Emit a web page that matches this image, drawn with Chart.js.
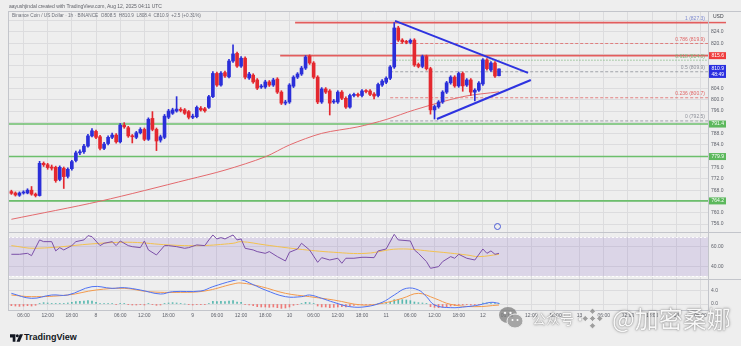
<!DOCTYPE html>
<html>
<head>
<meta charset="utf-8">
<title>BNBUSD 1h</title>
<script src="https://cdn.jsdelivr.net/npm/chart.js@4.4.1/dist/chart.umd.min.js"></script>
<style>
  html, body { margin: 0; padding: 0; background: #eeeeee; }
  body { width: 741px; height: 346px; position: relative; overflow: hidden; font-family: "Liberation Sans", Arial, sans-serif; }
  canvas { position: absolute; left: 0; }
  #priceChart { top: 0; }
  #rsiChart { top: 232px; }
  #macdChart { top: 279px; }
  .txt { position: absolute; white-space: nowrap; line-height: 1; }
  .wm { position: absolute; white-space: nowrap; line-height: 1; color: rgba(255,255,255,0.95);
        font-family: "Noto Sans CJK SC", "Noto Sans", sans-serif;
        text-shadow: 0 0 1px rgba(90,90,90,0.9), 0 0 3px rgba(0,0,0,0.35); }
</style>
</head>
<body>
<canvas id="priceChart" width="741" height="232"></canvas>
<canvas id="rsiChart" width="741" height="47"></canvas>
<canvas id="macdChart" width="741" height="47"></canvas>

<div class="txt" style="left:9px;top:3.5px;font-size:5px;color:#5d5f66">aayushjindal created with TradingView.com, Aug 12, 2025 04:11 UTC</div>
<div class="txt" style="left:12px;top:13.5px;font-size:4.7px;color:#6c6f78">Binance Coin / US Dollar · 1h · BINANCE &nbsp;O808.5 &nbsp;H810.9 &nbsp;L808.4 &nbsp;C810.9 &nbsp;+2.5 (+0.31%)</div>

<!-- TradingView footer logo -->
<svg style="position:absolute;left:10px;top:334px" width="13" height="8" viewBox="0 0 24 14">
  <path d="M0 0h10v14h-5v-8h-5z" fill="#131722"/>
  <circle cx="13.5" cy="3" r="2.8" fill="#131722"/>
  <path d="M18 0h6l-6 14h-6z" fill="#131722"/>
</svg>
<div class="txt" style="left:24px;top:333px;font-size:9px;font-weight:bold;color:#131722">TradingView</div>

<!-- small alert marker under the last candle -->
<div style="position:absolute;left:494px;top:223px;width:5px;height:5px;border:1px solid #4a5bd6;border-radius:50%"></div>

<!-- watermark -->
<svg style="position:absolute;left:498px;top:306px;opacity:0.75" width="26" height="24" viewBox="0 0 26 24">
  <ellipse cx="10" cy="9" rx="9" ry="8" fill="#7d7d7d"/>
  <ellipse cx="17" cy="15" rx="8" ry="7" fill="#8c8c8c" stroke="#eee" stroke-width="1"/>
  <circle cx="7" cy="7" r="1.2" fill="#fff"/><circle cx="12.5" cy="7" r="1.2" fill="#fff"/>
  <circle cx="14.5" cy="14" r="1" fill="#fff"/><circle cx="19.5" cy="14" r="1" fill="#fff"/>
</svg>
<div class="wm" style="left:532px;top:311px;font-size:14px">公众号</div>
<div class="wm" style="left:573px;top:311px;font-size:14px">·</div>
<svg style="position:absolute;left:580px;top:306px;opacity:0.8" width="25" height="25" viewBox="0 0 24 24">
  <g fill="#8a8a8a" stroke="#f4f4f4" stroke-width="0.8">
    <path d="M12 2l3 3-3 3-3-3z"/>
    <path d="M12 16l3 3-3 3-3-3z"/>
    <path d="M5 9l3 3-3 3-3-3z"/>
    <path d="M19 9l3 3-3 3-3-3z"/>
    <path d="M12 9l3 3-3 3-3-3z"/>
  </g>
</svg>
<div class="wm" style="left:612px;top:306px;font-size:24px">@加密桑娜</div>

<script>
// hourly candles, hour 0 = Aug 8 00:00 UTC; first candle is Aug 7 03:00
const firstHour = -21;
const opens = [
  767.5, 767.0, 766.2, 767.0, 767.0, 768.0, 766.6, 766.1, 777.5, 777.0,
  776.2, 776.1, 771.8, 775.7, 772.9, 775.6, 778.5, 781.2, 781.6, 783.6,
  787.2, 788.8, 786.9, 782.8, 784.5, 786.7, 787.5, 785.1, 791.0, 790.1,
  787.2, 786.7, 788.3, 789.5, 786.0, 793.4, 789.5, 785.7, 786.7, 793.8,
  795.2, 796.0, 796.6, 796.4, 795.8, 793.8, 794.0, 797.0, 796.8, 797.3,
  801.1, 809.3, 805.2, 809.6, 808.1, 813.7, 816.4, 811.9, 814.7, 807.7,
  808.7, 807.0, 804.5, 804.5, 806.3, 805.2, 807.3, 802.7, 798.8, 799.2,
  804.8, 808.0, 809.1, 811.2, 815.4, 813.0, 808.0, 799.2, 803.8, 803.1,
  799.2, 799.2, 802.7, 800.5, 797.4, 801.5, 801.9, 801.5, 803.1, 803.1,
  802.0, 801.5, 805.2, 806.2, 807.6, 811.6, 825.4, 821.1, 820.5, 820.3,
  821.1, 812.5, 811.8, 815.3, 811.0, 796.4, 797.5, 799.2, 802.7, 806.0,
  808.0, 804.9, 809.3, 805.2, 807.0, 802.7, 803.4, 805.6, 814.1, 810.5,
  813.0, 808.5
];
const highs = [
  768.0, 767.4, 767.4, 767.8, 768.5, 769.3, 767.0, 778.2, 778.0, 777.5,
  776.9, 776.5, 776.6, 776.2, 775.9, 778.6, 781.8, 782.3, 784.2, 787.8,
  789.8, 789.3, 787.4, 784.9, 787.2, 788.2, 788.0, 791.6, 791.9, 790.6,
  787.7, 788.8, 790.1, 790.0, 793.6, 795.8, 790.0, 787.5, 794.8, 796.6,
  797.0, 801.1, 797.2, 796.9, 796.2, 794.9, 797.8, 797.6, 797.3, 801.6,
  810.0, 809.8, 810.0, 810.1, 814.3, 819.4, 816.9, 815.3, 815.2, 809.7,
  809.2, 807.5, 805.4, 806.9, 806.8, 807.6, 807.8, 803.2, 799.8, 805.7,
  808.5, 809.6, 811.8, 815.6, 815.9, 813.5, 808.5, 804.3, 804.3, 803.6,
  800.1, 803.2, 803.2, 801.0, 802.0, 802.4, 802.4, 803.6, 803.6, 803.6,
  802.5, 805.9, 807.1, 808.1, 812.1, 827.3, 826.0, 821.6, 821.0, 821.5,
  821.6, 813.0, 815.8, 815.8, 811.5, 798.1, 799.7, 803.2, 806.5, 808.5,
  808.5, 809.8, 809.8, 807.5, 807.5, 803.9, 806.4, 814.6, 814.6, 813.5,
  813.5, 810.9
];
const lows = [
  766.5, 765.9, 765.8, 766.6, 766.7, 766.2, 765.6, 765.9, 776.4, 775.4,
  775.1, 770.8, 771.3, 768.6, 772.3, 775.1, 778.0, 780.6, 781.0, 783.2,
  786.8, 786.2, 782.2, 782.3, 784.0, 786.2, 784.6, 784.7, 789.9, 786.7,
  784.7, 786.2, 787.9, 785.5, 785.6, 789.0, 782.0, 785.0, 786.2, 793.3,
  794.8, 795.6, 795.7, 794.8, 793.2, 793.3, 793.6, 796.0, 795.6, 796.9,
  800.7, 804.7, 804.8, 807.9, 807.7, 813.2, 811.4, 811.4, 807.4, 807.2,
  805.8, 803.6, 804.0, 804.0, 804.7, 804.7, 802.2, 798.3, 798.2, 798.7,
  804.3, 807.5, 808.6, 810.7, 812.5, 807.5, 798.6, 798.7, 802.2, 794.6,
  798.7, 798.7, 800.0, 796.9, 797.0, 801.0, 801.0, 801.0, 802.4, 801.4,
  800.3, 801.0, 804.7, 805.7, 807.1, 811.1, 820.6, 820.0, 819.8, 819.8,
  811.8, 811.3, 811.3, 810.5, 794.9, 793.2, 797.0, 798.7, 802.2, 805.5,
  804.4, 804.4, 803.0, 804.7, 801.5, 799.6, 802.9, 805.1, 810.5, 810.0,
  807.9, 808.4
];
const closes = [
  766.9, 766.3, 767.0, 767.3, 768.0, 766.6, 766.1, 777.5, 777.0, 776.0,
  775.8, 771.4, 776.1, 772.8, 775.4, 778.1, 781.2, 781.6, 783.6, 787.2,
  789.0, 786.7, 782.8, 784.3, 786.7, 787.5, 785.1, 791.0, 790.4, 787.2,
  786.9, 788.3, 789.5, 786.0, 793.1, 789.5, 785.4, 786.9, 794.2, 796.0,
  796.4, 796.7, 796.2, 795.2, 793.8, 794.2, 797.3, 796.4, 796.1, 801.1,
  809.3, 805.2, 809.4, 808.4, 813.7, 816.2, 811.9, 814.7, 808.0, 809.1,
  806.3, 804.1, 804.8, 806.3, 805.2, 807.0, 802.7, 798.8, 799.2, 805.2,
  808.0, 809.1, 811.2, 815.1, 813.0, 808.0, 799.2, 803.8, 802.7, 798.8,
  799.5, 802.7, 800.5, 797.4, 801.5, 801.9, 801.5, 803.1, 802.9, 801.9,
  801.3, 805.4, 806.6, 807.6, 811.6, 825.4, 821.1, 820.5, 820.3, 821.0,
  812.3, 811.8, 815.3, 811.0, 796.4, 797.6, 799.2, 802.7, 806.0, 808.0,
  804.9, 809.3, 804.9, 807.0, 802.7, 803.4, 805.9, 814.1, 811.0, 813.0,
  808.4, 810.9
];

// moving average on price, [hour, value]
const maLine = [
  [-21, 757.7], [1, 764.1], [23, 771.8], [32, 775.1], [42, 779.8], [48, 784.0],
  [56, 788.1], [65, 790.4], [72, 793.0], [79, 796.4], [91, 801.1], [100, 802.8]
];

// drawn levels
const resistanceLevels = [827.3, 815.6];
const resistanceFrom = [49.4, 45.7];
const supportLevels = [791.4, 779.9, 764.2];
const fibRatios = [1, 0.786, 0.618, 0.5, 0.236, 0];
const fibPrices = [827.3, 819.9, 814.0, 809.9, 800.7, 792.5];
const fibFrom = 73;
const triangleUpper = [[74.2, 827.9], [107.2, 809.5]];
const triangleLower = [[84.6, 793.2], [107.9, 807.0]];
const countdown = '48:49';

// RSI(14) and its average, [hour, value]
const rsiLine = [
  [-21, 52.4], [-19, 52.4], [-17, 53.4], [-16, 51.0], [-14, 67.3], [-13, 65.5], [-11, 65.5],
  [-10, 55.9], [-9, 59.3], [-8, 56.9], [-6, 61.4], [-5, 65.5], [-3, 67.3], [-2, 71.7],
  [-1, 70.7], [1, 61.4], [2, 63.8], [4, 65.5], [5, 61.4], [6, 66.2], [8, 61.4], [9, 60.3],
  [11, 59.3], [12, 66.2], [13, 56.9], [15, 51.7], [17, 61.4], [18, 61.4], [20, 60.3],
  [22, 58.6], [23, 59.3], [25, 62.1], [27, 61.4], [28, 67.3], [29, 72.4], [30, 68.3],
  [31, 69.7], [32, 68.3], [34, 72.4], [35, 67.3], [36, 68.3], [37, 58.6], [39, 56.9],
  [40, 55.2], [42, 53.4], [43, 55.2], [45, 50.0], [47, 45.5], [48, 54.5], [50, 57.9],
  [51, 63.8], [53, 56.9], [55, 44.1], [56, 48.9], [58, 46.5], [60, 48.3], [61, 43.1],
  [62, 48.3], [64, 48.3], [66, 49.3], [67, 49.3], [69, 48.9], [70, 55.9], [72, 57.9],
  [74, 73.1], [75, 67.3], [78, 66.2], [79, 56.9], [80, 53.4], [82, 44.8], [83, 37.9],
  [85, 39.6], [86, 44.8], [88, 50.0], [89, 48.3], [90, 52.4], [92, 48.3], [94, 46.5],
  [96, 57.9], [97, 53.4], [98, 55.9], [99, 52.4], [100, 53.4]
];
const rsiAverage = [
  [-21, 61.4], [-15, 58.6], [1, 63.8], [9, 64.8], [18, 62.1], [26, 61.4], [34, 63.8],
  [36, 65.5], [42, 62.1], [50, 57.9], [59, 54.5], [67, 53.4], [75, 57.9], [84, 55.2],
  [92, 51.7], [95, 50.0], [100, 52.4]
];
const rsiBand = [30, 70];
const rsiTicks = [40, 60];

// MACD(12,26,9), [hour, value]
const macdLine = [
  [-21, 3.2], [-16, 1.7], [-11, 2.7], [-7, 2.7], [-1, 5.2], [4, 4.7], [7, 4.9], [11, 4.2],
  [16, 3.0], [19, 3.7], [26, 3.9], [29, 5.2], [34, 7.0], [36, 7.3], [39, 5.8], [42, 4.2],
  [47, 2.2], [51, 2.2], [53, 2.7], [56, 1.7], [59, 0.5], [63, -0.8], [67, -0.8], [71, 0.5],
  [74, 2.7], [77, 4.7], [80, 4.2], [82, 2.2], [84, -0.3], [88, -1.1], [92, -0.8], [95, -0.3],
  [98, 0.5], [100, 0.2]
];
const signalLine = [
  [-21, 2.7], [-16, 2.2], [-7, 2.7], [0, 4.2], [7, 4.7], [13, 3.7], [21, 3.5], [27, 3.9],
  [34, 6.0], [36, 6.3], [41, 5.2], [47, 3.2], [53, 2.2], [59, 1.2], [66, -0.3], [71, 0.2],
  [76, 1.7], [80, 3.2], [84, 1.7], [88, -0.1], [94, -0.8], [100, -0.3]
];
const histogram = [
  -0.5, -0.6, -0.7, -0.6, -0.5, -0.6, -0.4, 0.2, 0.4, 0.3,
  0.2, 0.1, 0.2, 0.2, 0.3, 0.5, 0.7, 0.8, 0.9, 1.0,
  0.9, 0.5, 0.2, 0.1, 0.1, 0.1, -0.1, 0.2, 0.1, -0.2,
  -0.3, -0.3, -0.2, -0.3, 0.1, -0.1, -0.4, -0.3, 0.1, 0.3,
  0.4, 0.3, 0.2, 0.0, -0.2, -0.3, -0.1, -0.1, -0.2, 0.2,
  0.8, 0.7, 0.8, 0.7, 0.9, 1.0, 0.6, 0.5, -0.1, -0.3,
  -0.5, -0.8, -0.9, -0.9, -1.0, -0.9, -1.1, -1.3, -1.2, -0.9,
  -0.4, -0.1, 0.2, 0.5, 0.4, 0.1, -0.6, -0.9, -0.9, -1.1,
  -1.0, -0.9, -0.8, -0.9, -0.6, -0.4, -0.3, -0.2, -0.1, -0.1,
  -0.1, 0.2, 0.3, 0.4, 0.5, 1.3, 1.4, 1.3, 1.2, 1.0,
  0.6, 0.4, 0.3, 0.1, -0.8, -1.0, -1.1, -1.0, -0.8, -0.6,
  -0.5, -0.3, -0.3, -0.2, -0.3, -0.2, -0.1, 0.3, 0.3, 0.3,
  0.2, 0.2
];
const macdTicks = [0, 4];

// time axis
const tickHours = [-18, -12, -6, 0, 6, 12, 18, 24, 30, 36, 42, 48, 54, 60, 66, 72, 78, 84, 90, 96, 102, 108, 114, 120, 126, 132, 138, 144, 150];
const tickLabels = ['06:00', '12:00', '18:00', '8', '06:00', '12:00', '18:00', '9', '06:00', '12:00', '18:00', '10',
  '06:00', '12:00', '18:00', '11', '06:00', '12:00', '18:00', '12', '06:00', '12:00', '18:00', '13', '06:00', '12:00', '18:00', '14', '06:00'];
const priceTicks = [756, 760, 764, 768, 772, 776, 780, 784, 788, 792, 796, 800, 804, 808, 812, 816, 820, 824, 828];
const coveredPriceTicks = [764, 780, 792, 808, 812, 816, 828];

const X_MIN = -21.84, X_MAX = 151.86;
const GRID = '#dcdcde';
const FRAME = '#c3c5cb';
const UP = '#2b2fd9', DOWN = '#e4282f';
const FONT = '"Liberation Sans", Arial, sans-serif';

Chart.defaults.font.family = FONT;
Chart.defaults.font.size = 5;
Chart.defaults.color = '#6a6d78';
Chart.defaults.animation = false;
Chart.defaults.responsive = false;
Chart.defaults.plugins.legend.display = false;
Chart.defaults.plugins.tooltip.enabled = false;

const hours = opens.map((_, i) => firstHour + i);
const candleColor = ctx => closes[ctx.dataIndex] >= opens[ctx.dataIndex] ? UP : DOWN;

function timeAxis(withLabels) {
  return {
    type: 'linear', min: X_MIN, max: X_MAX, offset: false,
    grid: { color: GRID, offset: false, drawTicks: false },
    border: { display: withLabels, color: FRAME },
    ticks: { display: withLabels, padding: 3, autoSkip: false, maxRotation: 0, color: '#5f626b',
      callback: (v, i) => tickLabels[i] },
    afterBuildTicks: s => { s.ticks = tickHours.map(v => ({ value: v })); },
    afterFit: s => { s.height = withLabels ? 16 : 0; s.paddingLeft = 0; s.paddingRight = 0; }
  };
}

function valueAxis(min, max, ticks, fmt) {
  return {
    position: 'right', min, max, beginAtZero: false,
    grid: { color: GRID, drawTicks: false },
    border: { color: FRAME },
    ticks: { padding: 3, color: '#5f626b', callback: fmt },
    afterBuildTicks: s => { s.ticks = ticks.map(v => ({ value: v })); },
    afterFit: s => { s.width = 33; s.paddingTop = 0; s.paddingBottom = 0; }
  };
}

function segment(points, color, width, dash, order) {
  return {
    type: 'line', data: points.map(p => ({ x: p[0], y: p[1] })),
    borderColor: color, borderWidth: width, borderDash: dash || [],
    pointRadius: 0, fill: false, tension: 0, order: order
  };
}

function curve(points, color, width, tension, order) {
  const ds = segment(points, color, width, null, order);
  ds.tension = tension;
  return ds;
}

// left edge and top edge of each pane
const paneFrame = {
  id: 'paneFrame',
  afterDraw(chart) {
    const { ctx, chartArea } = chart;
    ctx.save();
    ctx.strokeStyle = FRAME;
    ctx.lineWidth = 1;
    ctx.beginPath();
    ctx.moveTo(chartArea.left + 0.5, chartArea.top);
    ctx.lineTo(chartArea.left + 0.5, chartArea.bottom);
    ctx.moveTo(chartArea.left, chartArea.top + 0.5);
    ctx.lineTo(chartArea.right + 33, chartArea.top + 0.5);
    ctx.stroke();
    ctx.restore();
  }
};

// fib labels and coloured price tags
const fibColors = ['#7f8bd0', '#e06666', '#7cb87c', '#8d9099', '#e06666', '#8d9099'];
const priceTags = {
  id: 'priceTags',
  afterDatasetsDraw(chart) {
    const { ctx, chartArea, scales: { y } } = chart;
    ctx.save();
    ctx.font = '5px ' + FONT;
    ctx.textAlign = 'right';
    ctx.textBaseline = 'bottom';
    fibRatios.forEach((r, k) => {
      ctx.fillStyle = fibColors[k];
      ctx.fillText(r + ' (' + fibPrices[k].toFixed(1) + ')', chartArea.right - 3, y.getPixelForValue(fibPrices[k]) - 1.5);
    });
    ctx.restore();
  },
  afterDraw(chart) {
    const { ctx, chartArea, scales: { y } } = chart;
    const x0 = chartArea.right + 1;
    ctx.save();
    ctx.font = '5px ' + FONT;
    ctx.textBaseline = 'middle';
    ctx.textAlign = 'left';
    ctx.fillStyle = '#3a3d45';
    ctx.fillText('USD', x0 + 4, 17);
    ctx.fillStyle = '#e35d5d';
    ctx.fillRect(x0, y.getPixelForValue(resistanceLevels[0]) - 0.75, 17, 1.5);
    const tag = (value, color, text, sub) => {
      const py = y.getPixelForValue(value);
      ctx.fillStyle = color;
      ctx.fillRect(x0, py - (sub ? 4 : 3.5), 17, sub ? 13 : 7);
      ctx.fillStyle = '#ffffff';
      ctx.fillText(text, x0 + 2.5, py);
      if (sub) ctx.fillText(sub, x0 + 2.5, py + 6);
    };
    tag(resistanceLevels[1], '#ef3b3b', resistanceLevels[1].toFixed(1));
    supportLevels.forEach(v => tag(v, '#5cb85c', v.toFixed(1)));
    const last = closes[closes.length - 1];
    tag(last, '#2b2fe0', last.toFixed(1), countdown);
    ctx.restore();
  }
};

const lastIdx = closes.length - 1;

new Chart(document.getElementById('priceChart'), {
  type: 'line',
  data: {
    datasets: [
      segment(triangleUpper, '#2e33e0', 2, null, 0),
      segment(triangleLower, '#2e33e0', 2, null, 0),
      {
        type: 'bar', order: 1, grouped: false, barThickness: 3, minBarLength: 1,
        data: hours.map((t, i) => ({ x: t, y: [opens[i], closes[i]] })),
        backgroundColor: candleColor
      },
      {
        type: 'bar', order: 2, grouped: false, barThickness: 1, minBarLength: 1,
        data: hours.map((t, i) => ({ x: t, y: [lows[i], highs[i]] })),
        backgroundColor: candleColor
      },
      curve(maLine, '#e36a6e', 1, 0.3, 3),
      ...resistanceLevels.map((v, k) => segment([[resistanceFrom[k], v], [X_MAX, v]], '#e35d5d', 1.6, null, 4)),
      ...supportLevels.map(v => segment([[X_MIN, v], [X_MAX, v]], '#6cbf6c', 1.6, null, 4)),
      ...fibPrices.map((v, k) => segment([[fibFrom, v], [X_MAX, v]], fibColors[k], 0.8, k === 2 ? [1.5, 1.5] : [3, 2], 5))
    ]
  },
  options: {
    layout: { padding: { left: 8, top: 11, right: 0, bottom: 0 } },
    scales: {
      x: timeAxis(false),
      y: valueAxis(753.2, 831.4, priceTicks, v => coveredPriceTicks.includes(v) ? '' : v.toFixed(1))
    }
  },
  plugins: [paneFrame, priceTags]
});

// RSI band
const rsiBandPlugin = {
  id: 'rsiBand',
  beforeDatasetsDraw(chart) {
    const { ctx, chartArea, scales: { y } } = chart;
    const top = y.getPixelForValue(rsiBand[1]);
    const bottom = y.getPixelForValue(rsiBand[0]);
    ctx.save();
    ctx.fillStyle = 'rgba(126,87,194,0.17)';
    ctx.fillRect(chartArea.left, top, chartArea.width, bottom - top);
    ctx.strokeStyle = 'rgba(255,255,255,0.85)';
    ctx.lineWidth = 1;
    ctx.setLineDash([2, 2]);
    ctx.beginPath();
    ctx.moveTo(chartArea.left, Math.round(top) + 0.5);
    ctx.lineTo(chartArea.right, Math.round(top) + 0.5);
    ctx.moveTo(chartArea.left, Math.round(bottom) + 0.5);
    ctx.lineTo(chartArea.right, Math.round(bottom) + 0.5);
    ctx.stroke();
    ctx.restore();
  }
};

new Chart(document.getElementById('rsiChart'), {
  type: 'line',
  data: {
    datasets: [
      curve(rsiLine, '#7b4fa8', 1, 0, 1),
      curve(rsiAverage, '#f2c14e', 1, 0.4, 2)
    ]
  },
  options: {
    layout: { padding: { left: 8, top: 0, right: 0, bottom: 0 } },
    scales: {
      x: timeAxis(false),
      y: valueAxis(26.8, 75.5, rsiTicks, v => v.toFixed(2))
    }
  },
  plugins: [paneFrame, rsiBandPlugin]
});

new Chart(document.getElementById('macdChart'), {
  type: 'line',
  data: {
    datasets: [
      curve(macdLine, '#4f72f2', 1, 0.4, 1),
      curve(signalLine, '#f39a4c', 1, 0.4, 2),
      {
        type: 'bar', order: 3, grouped: false, barThickness: 1,
        data: hours.map((t, i) => ({ x: t, y: histogram[i] })),
        backgroundColor: ctx => histogram[ctx.dataIndex] >= 0 ? 'rgba(38,166,154,0.75)' : 'rgba(239,83,80,0.75)'
      }
    ]
  },
  options: {
    layout: { padding: { left: 8, top: 0, right: 0, bottom: 0 } },
    scales: {
      x: timeAxis(true),
      y: valueAxis(-1.8, 7.5, macdTicks, v => v.toFixed(1))
    }
  },
  plugins: [paneFrame]
});
</script>
</body>
</html>
